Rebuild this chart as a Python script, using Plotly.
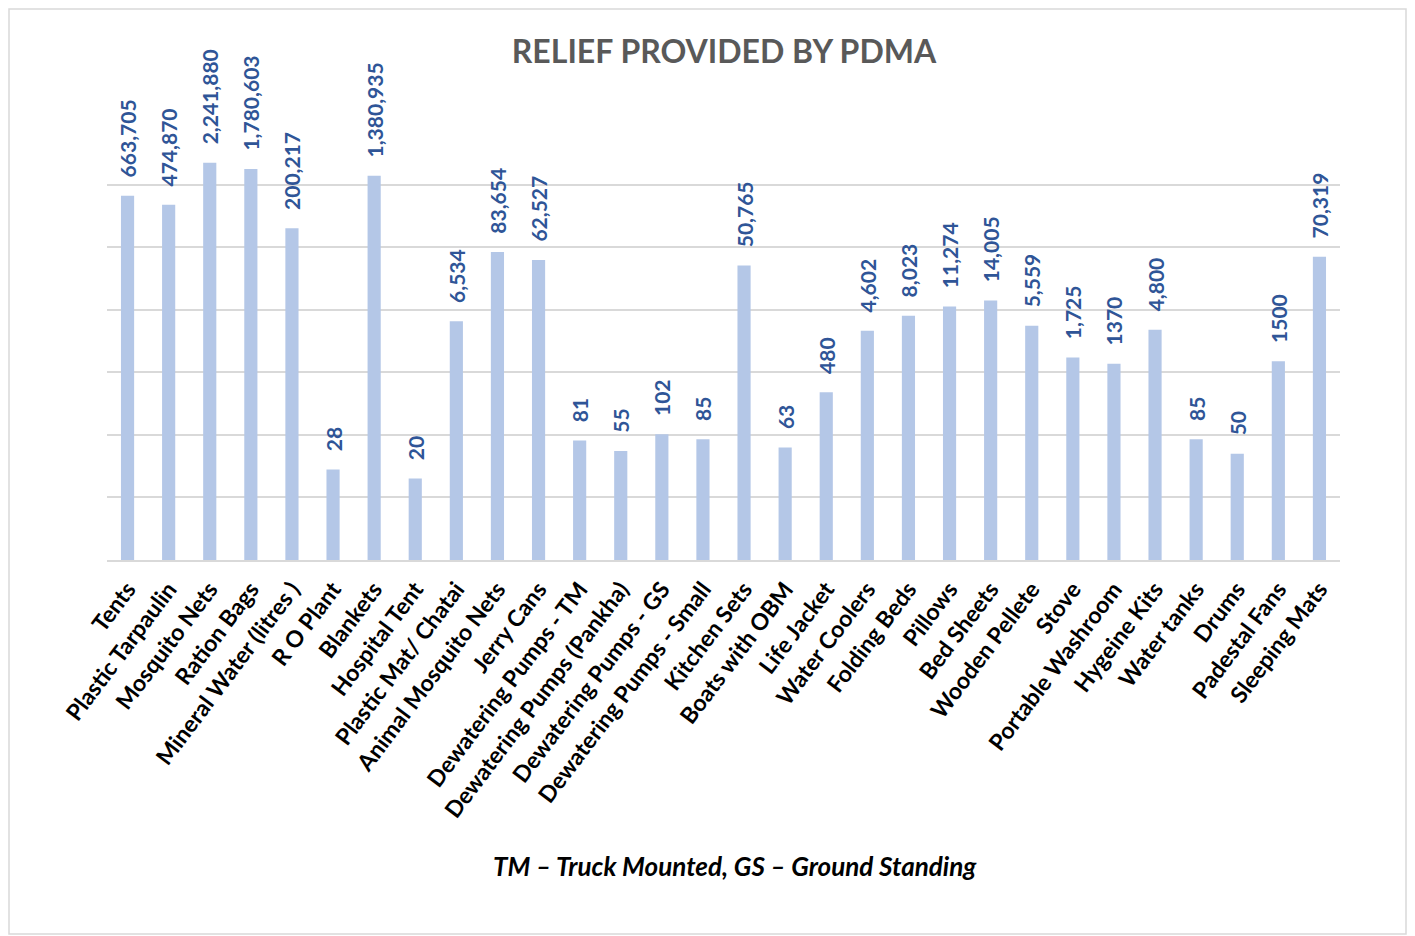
import plotly.graph_objects as go

categories = ["Tents", "Plastic Tarpaulin", "Mosquito Nets", "Ration Bags", "Mineral Water (litres )",
              "R O Plant", "Blankets", "Hospital Tent", "Plastic Mat/ Chatai", "Animal Mosquito Nets",
              "Jerry Cans", "Dewatering Pumps - TM", "Dewatering Pumps (Pankha)", "Dewatering Pumps - GS",
              "Dewatering Pumps - Small", "Kitchen Sets", "Boats with OBM", "Life Jacket", "Water Coolers",
              "Folding Beds", "Pillows", "Bed Sheets", "Wooden Pellete", "Stove", "Portable Washroom",
              "Hygeine Kits", "Water tanks", "Drums", "Padestal Fans", "Sleeping Mats"]
values = [663705, 474870, 2241880, 1780603, 200217, 28, 1380935, 20, 6534, 83654,
          62527, 81, 55, 102, 85, 50765, 63, 480, 4602, 8023,
          11274, 14005, 5559, 1725, 1370, 4800, 85, 50, 1500, 70319]
labels = ["663,705", "474,870", "2,241,880", "1,780,603", "200,217", "28", "1,380,935", "20", "6,534", "83,654",
          "62,527", "81", "55", "102", "85", "50,765", "63", "480", "4,602", "8,023",
          "11,274", "14,005", "5,559", "1,725", "1370", "4,800", "85", "50", "1500", "70,319"]

# page body has an 8px margin, so work in reference pixels shifted by 8
OFF = 8
W, H = 1415 - OFF, 936 - OFF
L, R, T, B = 107 - OFF, W - (1340 - OFF), 122 - OFF, H - (560 - OFF)
pw, ph = W - L - R, H - T - B

def px(x):
    return (x - OFF - L) / pw

def py(y):
    return (H - B - (y - OFF)) / ph

fig = go.Figure(go.Bar(
    x=categories, y=values, text=["\u00a0\u00a0\u00a0" + s for s in labels],
    textposition="outside", textangle=-90, constraintext="none", cliponaxis=False,
    marker=dict(color="#B4C7E7", line=dict(width=0)),
    textfont=dict(family="Lato", size=21, color="#2F5597", weight="bold"),
    hoverinfo="x+y",
))

fig.update_layout(
    width=W, height=H,
    margin=dict(l=L, r=R, t=T, b=B),
    paper_bgcolor="white", plot_bgcolor="white",
    bargap=0.68,
    showlegend=False,
    title=dict(text="<b>RELIEF PROVIDED BY PDMA</b>", xref="container", x=(724 - OFF) / W,
               xanchor="center", y=1 - (52 - OFF) / H, yanchor="middle",
               font=dict(family="Lato", size=32, color="#595959")),
    xaxis=dict(tickangle=-53, showline=True, linecolor="#D9D9D9", linewidth=1.5,
               ticks="", ticklabelstandoff=5,
               tickfont=dict(family="Lato", size=23, color="#000000", weight="bold")),
    yaxis=dict(type="log", range=[0, 7], dtick=1, showticklabels=False,
               showgrid=True, gridcolor="#D9D9D9", gridwidth=1.5, zeroline=False, showline=False),
    annotations=[dict(text="<b><i>TM – Truck Mounted, GS – Ground Standing</i></b>",
                      xref="paper", yref="paper", x=px(735), y=py(866),
                      xanchor="center", yanchor="middle", showarrow=False,
                      font=dict(family="Lato", size=26, color="#000000"))],
    shapes=[dict(type="rect", xref="paper", yref="paper",
                 x0=px(9), x1=px(1406), y0=py(934), y1=py(9),
                 line=dict(color="#D9D9D9", width=1.5), fillcolor="rgba(0,0,0,0)", layer="below")],
)

fig.write_html("out.html")
